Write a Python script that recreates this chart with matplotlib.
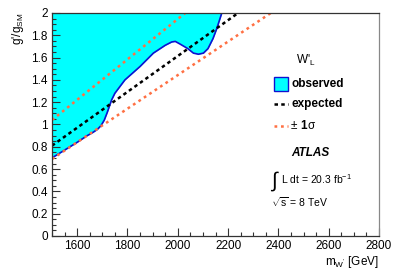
import matplotlib
matplotlib.use("Agg")
import matplotlib.pyplot as plt
from matplotlib.patches import Rectangle
from matplotlib.lines import Line2D
from matplotlib.ticker import MultipleLocator

plt.rcParams["font.family"] = ["Liberation Sans", "DejaVu Sans"]
plt.rcParams["mathtext.fontset"] = "custom"
plt.rcParams["mathtext.rm"] = "Liberation Sans"
plt.rcParams["mathtext.it"] = "Liberation Sans:italic"
plt.rcParams["mathtext.bf"] = "Liberation Sans:bold"

# observed limit contour (W'_L)
obs_mass = [1500, 1550, 1600, 1640, 1660, 1680, 1695, 1708, 1720, 1737, 1750, 1770, 1790, 1850,
            1903, 1950, 1976, 1990, 2010, 2040, 2062, 2082, 2102, 2120, 2140, 2155, 2175]
obs_g = [0.70, 0.77, 0.84, 0.90, 0.925, 0.955, 0.99, 1.04, 1.11, 1.22, 1.28, 1.34, 1.40, 1.52,
         1.64, 1.71, 1.74, 1.745, 1.72, 1.68, 1.64, 1.63, 1.64, 1.68, 1.77, 1.86, 2.00]

# expected and +-1 sigma band edges (straight lines)
exp_mass = [1500, 2240]
exp_g = [0.81, 2.00]
up_mass = [1500, 2030]
up_g = [1.04, 2.00]
dn_mass = [1500, 2370]
dn_g = [0.69, 2.00]

orange = "#ff7043"
exp_ls = (0, (1.4, 1.3))
sig_ls = (0, (1.1, 1.5))

fig = plt.figure(figsize=(3.99, 2.72), dpi=100)
ax = fig.add_axes([0.1303, 0.1324, 0.8197, 0.8199])

ax.fill_between(obs_mass, obs_g, 2.0, color="#00ffff", lw=0)
ax.plot(obs_mass, obs_g, color="#1010d0", lw=1.2)
ax.plot(exp_mass, exp_g, color="black", lw=1.8, ls=exp_ls)
ax.plot(up_mass, up_g, color=orange, lw=1.8, ls=sig_ls)
ax.plot(dn_mass, dn_g, color=orange, lw=1.8, ls=sig_ls)

ax.set_xlim(1500, 2800)
ax.set_ylim(0, 2)
ax.xaxis.set_major_locator(MultipleLocator(200))
ax.xaxis.set_minor_locator(MultipleLocator(50))
ax.yaxis.set_minor_locator(MultipleLocator(0.05))
ax.set_yticks([0, 0.2, 0.4, 0.6, 0.8, 1, 1.2, 1.4, 1.6, 1.8, 2])
ax.set_yticklabels(["0", "0.2", "0.4", "0.6", "0.8", "1", "1.2", "1.4", "1.6", "1.8", "2"])
ax.xaxis.set_major_formatter(plt.FuncFormatter(lambda v, p: "" if v == 1500 else f"{v:.0f}"))
ax.tick_params(which="both", direction="in", top=False, right=False,
               labelsize=8.5, width=0.8, color="#333333", pad=3)
ax.tick_params(which="major", length=6)
ax.tick_params(which="minor", length=3)
for s in ax.spines.values():
    s.set_linewidth(0.9)
    s.set_color("#333333")
ax.spines["right"].set_color("#888888")

ax.set_xlabel(r"m$_{\mathrm{W'}}$ [GeV]", fontsize=8.5, ha="right", x=1.0, labelpad=1)
ax.set_ylabel(r"g'/g$_{\mathrm{SM}}$", fontsize=8.5, ha="right", y=1.0, labelpad=4)

# legend, drawn by hand in figure pixels
def fx(px):
    return px / 399.0

def fy(py):
    return 1 - py / 272.0

fig.text(fx(296), fy(60), r"W'$_{\mathrm{L}}$", fontsize=8.5, va="center")
fig.patches.append(Rectangle((fx(274), fy(91)), fx(14), 14 / 272.0, transform=fig.transFigure,
                             facecolor="#00ffff", edgecolor="#1010d0", lw=1.0))
fig.text(fx(292), fy(84), "observed", fontsize=8.5, weight="bold", va="center")
fig.lines.append(Line2D([fx(274), fx(288)], [fy(104), fy(104)], transform=fig.transFigure,
                        color="black", lw=1.8, ls=exp_ls))
fig.text(fx(292), fy(104), "expected", fontsize=8.5, weight="bold", va="center")
fig.lines.append(Line2D([fx(274), fx(288)], [fy(126), fy(126)], transform=fig.transFigure,
                        color=orange, lw=1.8, ls=sig_ls))
fig.text(fx(291), fy(126), "±", fontsize=8.5, va="center")
fig.text(fx(300), fy(126), "1", fontsize=8.5, weight="bold", va="center")
fig.text(fx(308), fy(126), "σ", fontsize=8.5, va="center")

fig.text(fx(291), fy(153), "ATLAS", fontsize=8.5, weight="bold", style="italic", va="center")
fig.text(fx(270), fy(181), r"$\int$", fontsize=15, va="center")
fig.text(fx(281), fy(179), r"L dt = 20.3 fb$^{\mathregular{-1}}$", fontsize=7.5, va="center")
fig.text(fx(271), fy(202), r"$\sqrt{\mathregular{s}}$ = 8 TeV", fontsize=7.5, va="center")

fig.savefig("out.png", dpi=100)
